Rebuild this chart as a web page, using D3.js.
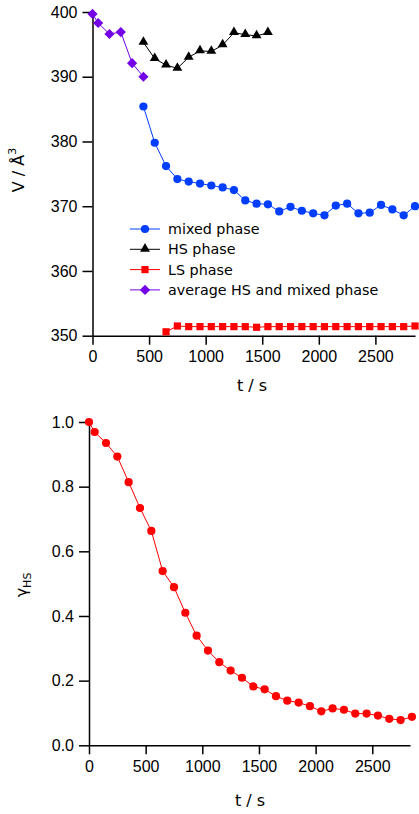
<!DOCTYPE html>
<meta charset="utf-8" />
<style>
  body { margin: 0; background: #fff; }
  svg { display: block; font-family: "DejaVu Sans", sans-serif; }
  .axis path, .axis line { stroke: #000; stroke-width: 1.5; }
  .axis text { font-size: 16px; fill: #000; }
  .lab { font-size: 16px; fill: #000; }
  .legend text { font-size: 14.3px; fill: #000; }
</style>
<svg width="419" height="814"></svg>
<script src="https://d3js.org/d3.v7.min.js"></script>
<script>
  // top panel: cell volume vs time
  const tMixed = [450, 550, 650, 750, 850, 950, 1050, 1150, 1250, 1350, 1450, 1550, 1650, 1750, 1850, 1950, 2050, 2150, 2250, 2350, 2450, 2550, 2650, 2750, 2850];
  const vMixed = [385.4, 379.8, 376.2, 374.2, 373.8, 373.5, 373.2, 372.9, 372.5, 370.9, 370.4, 370.3, 369.2, 369.9, 369.3, 368.9, 368.6, 370.1, 370.4, 368.9, 369.0, 370.2, 369.5, 368.6, 370.0];

  const tHS = [450, 550, 650, 750, 850, 950, 1050, 1150, 1250, 1350, 1450, 1550];
  const vHS = [395.3, 392.8, 391.8, 391.3, 393.0, 394.0, 393.9, 394.9, 396.8, 396.5, 396.3, 396.8];

  const tLS = [650, 750, 850, 950, 1050, 1150, 1250, 1350, 1450, 1550, 1650, 1750, 1850, 1950, 2050, 2150, 2250, 2350, 2450, 2550, 2650, 2750, 2850];
  const vLS = [350.6, 351.5, 351.4, 351.4, 351.4, 351.4, 351.4, 351.4, 351.3, 351.4, 351.4, 351.4, 351.4, 351.4, 351.4, 351.4, 351.4, 351.4, 351.4, 351.4, 351.4, 351.4, 351.5];

  const tAvg = [0, 50, 150, 250, 350, 450];
  const vAvg = [399.7, 398.3, 396.6, 396.9, 392.1, 390.0];

  // bottom panel: HS fraction vs time
  const tGamma = [0, 50, 150, 250, 350, 450, 550, 650, 750, 850, 950, 1050, 1150, 1250, 1350, 1450, 1550, 1650, 1750, 1850, 1950, 2050, 2150, 2250, 2350, 2450, 2550, 2650, 2750, 2850];
  const gamma = [1.0, 0.969, 0.935, 0.893, 0.814, 0.734, 0.663, 0.539, 0.489, 0.410, 0.339, 0.293, 0.257, 0.231, 0.209, 0.182, 0.173, 0.152, 0.138, 0.132, 0.121, 0.105, 0.114, 0.110, 0.098, 0.098, 0.092, 0.082, 0.078, 0.088];

  const vTicks = [350, 360, 370, 380, 390, 400];
  const gTicks = [0, 0.2, 0.4, 0.6, 0.8, 1.0];
  const tTicks = [0, 500, 1000, 1500, 2000, 2500];

  const legendNames = ['mixed phase', 'HS phase', 'LS phase', 'average HS and mixed phase'];

  const blue = '#003eff', red = '#ff0000', purple = '#7300e6';

  const svg = d3.select('svg');

  // marker shapes
  function marker(sel, kind, color) {
    if (kind === 'circle') {
      sel.append('circle').attr('r', 4.1).attr('fill', color);
    } else if (kind === 'triangle') {
      sel.append('path').attr('d', d3.symbol(d3.symbolTriangle, 42)()).attr('transform', 'translate(0,-0.5)').attr('fill', color);
    } else if (kind === 'square') {
      sel.append('rect').attr('x', -3.6).attr('y', -3.6).attr('width', 7.2).attr('height', 7.2).attr('fill', color);
    } else if (kind === 'diamond') {
      sel.append('rect').attr('x', -3.6).attr('y', -3.6).attr('width', 7.2).attr('height', 7.2)
        .attr('transform', 'rotate(45)').attr('fill', color);
    }
  }

  function series(g, x, y, ts, vs, color, kind) {
    const pts = ts.map((t, i) => [t, vs[i]]);
    g.append('path')
      .datum(pts)
      .attr('fill', 'none')
      .attr('stroke', color)
      .attr('stroke-width', 1)
      .attr('d', d3.line().x(d => x(d[0])).y(d => y(d[1])));
    g.append('g').selectAll('g')
      .data(pts)
      .join('g')
      .attr('transform', d => `translate(${x(d[0])},${y(d[1])})`)
      .each(function () { marker(d3.select(this), kind, color); });
  }

  // ---- top chart ----
  const x1 = d3.scaleLinear().domain([0, 2850]).range([92.5, 415]);
  const y1 = d3.scaleLinear().domain([350, 400]).range([335.7, 12]);

  const topG = svg.append('g');

  topG.append('g')
    .attr('class', 'axis')
    .attr('transform', `translate(0,${y1(350)})`)
    .call(d3.axisBottom(x1).tickValues(tTicks).tickFormat(d3.format('d')).tickSize(9).tickSizeOuter(0).tickPadding(6));

  topG.append('g')
    .attr('class', 'axis')
    .attr('transform', `translate(${x1(0)},0)`)
    .call(d3.axisLeft(y1).tickValues(vTicks).tickSize(10).tickSizeOuter(0).tickPadding(5));

  series(topG, x1, y1, tAvg, vAvg, purple, 'diamond');
  series(topG, x1, y1, tHS, vHS, '#000', 'triangle');
  series(topG, x1, y1, tMixed, vMixed, blue, 'circle');
  series(topG, x1, y1, tLS, vLS, red, 'square');

  topG.append('text')
    .attr('class', 'lab')
    .attr('x', 252)
    .attr('y', 391)
    .attr('text-anchor', 'middle')
    .text('t / s');

  const vLab = topG.append('text')
    .attr('class', 'lab')
    .attr('transform', 'translate(24,170) rotate(-90)')
    .attr('text-anchor', 'middle');
  vLab.append('tspan').text('V / Å');
  vLab.append('tspan').attr('dy', -8).attr('font-size', 11).text('3');

  // legend
  const legendColors = [blue, '#000', red, purple];
  const legendKinds = ['circle', 'triangle', 'square', 'diamond'];
  const leg = topG.append('g').attr('class', 'legend');
  const rows = leg.selectAll('g')
    .data(legendNames)
    .join('g')
    .attr('transform', (d, i) => `translate(130,${229 + i * 20.3})`);
  rows.append('line')
    .attr('x1', 0).attr('x2', 30)
    .attr('stroke', (d, i) => legendColors[i])
    .attr('stroke-width', 1);
  rows.each(function (d, i) {
    const m = d3.select(this).append('g').attr('transform', 'translate(15,0)');
    marker(m, legendKinds[i], legendColors[i]);
  });
  rows.append('text')
    .attr('x', 38)
    .attr('dy', '0.35em')
    .text(d => d);

  // ---- bottom chart ----
  const x2 = d3.scaleLinear().domain([0, 2833]).range([89, 410]);
  const y2 = d3.scaleLinear().domain([0, 1]).range([745.3, 422]);

  const botG = svg.append('g');

  botG.append('g')
    .attr('class', 'axis')
    .attr('transform', `translate(0,${y2(0)})`)
    .call(d3.axisBottom(x2).tickValues(tTicks).tickFormat(d3.format('d')).tickSize(9).tickSizeOuter(0).tickPadding(6));

  botG.append('g')
    .attr('class', 'axis')
    .attr('transform', `translate(${x2(0)},0)`)
    .call(d3.axisLeft(y2).tickValues(gTicks).tickFormat(d3.format('.1f')).tickSize(10).tickSizeOuter(0).tickPadding(5));

  series(botG, x2, y2, tGamma, gamma, red, 'circle');

  botG.append('text')
    .attr('class', 'lab')
    .attr('x', 250)
    .attr('y', 806)
    .attr('text-anchor', 'middle')
    .text('t / s');

  const gLab = botG.append('text')
    .attr('class', 'lab')
    .attr('transform', 'translate(27,585) rotate(-90)')
    .attr('text-anchor', 'middle');
  gLab.append('tspan').text('γ');
  gLab.append('tspan').attr('dy', 4).attr('font-size', 11).text('HS');
</script>
